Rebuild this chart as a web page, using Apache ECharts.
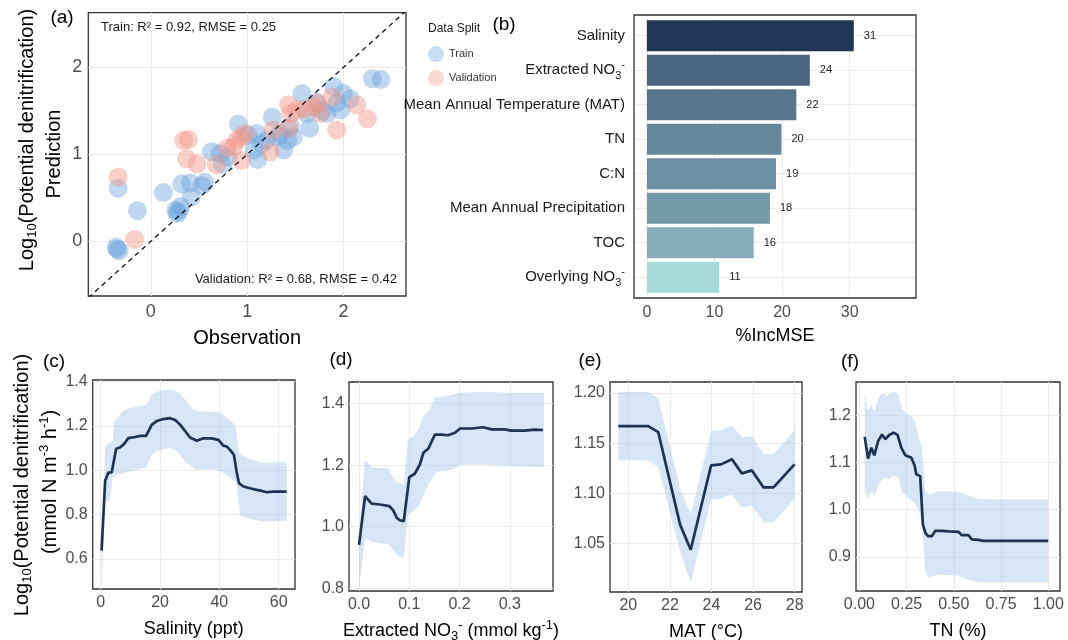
<!DOCTYPE html>
<html><head><meta charset="utf-8">
<script src="https://cdn.jsdelivr.net/npm/echarts@6/dist/echarts.min.js"></script>
<style>html,body{margin:0;padding:0;background:#fff}#c{width:1068px;height:640px}</style>
</head><body><div id="c"></div>
<script>
// ---------- DATA ----------
// (a) observed vs predicted
const trainObs  = [-0.36,-0.33,-0.35,-0.34,-0.14,0.13,0.26,0.29,0.31,0.27,0.32,0.41,0.42,0.53,0.56,0.63,0.72,0.74,0.80,0.91,1.01,1.07,1.10,1.11,1.15,1.20,1.26,1.32,1.34,1.38,1.42,1.45,1.48,1.57,1.62,1.65,1.72,1.78,1.83,1.90,1.93,1.97,2.00,2.07,2.30,2.39];
const trainPred = [-0.07,-0.11,-0.09,0.61,0.35,0.56,0.36,0.34,0.40,0.32,0.66,0.67,0.51,0.64,0.68,1.03,1.01,0.89,0.97,1.35,1.22,1.05,1.24,0.94,1.12,1.16,1.43,1.20,1.24,1.05,1.16,1.32,1.20,1.70,1.47,1.30,1.60,1.50,1.47,1.78,1.59,1.51,1.70,1.64,1.87,1.86];
const validObs  = [-0.34,-0.17,0.34,0.39,0.37,0.48,0.68,0.79,0.86,0.89,0.94,0.98,0.94,1.24,1.27,1.43,1.45,1.43,1.52,1.60,1.69,1.73,1.76,1.88,1.93,2.14,2.25];
const validPred = [0.74,0.02,1.16,1.17,0.95,0.89,0.88,1.07,1.09,1.16,1.20,1.24,0.93,1.03,1.28,1.57,1.47,1.30,1.51,1.52,1.55,1.59,1.47,1.66,1.28,1.57,1.41];
const axisRangeA = [-0.65, 2.65];
const axisRangeAy = [-0.63, 2.63];
const ticksA = [0, 1, 2];

// (b) variable importance
const barCats = ['Salinity','Extracted NO3-','Mean Annual Temperature (MAT)','TN','C:N','Mean Annual Precipitation','TOC','Overlying NO3-'];
const barVals = [30.6, 24.1, 22.1, 19.9, 19.1, 18.2, 15.8, 10.7];
const barColors = ['#1f3656','#4b6580','#58758e','#66889b','#6c8fa1','#7499a9','#87adba','#a8d9db'];
const ticksB = [0, 10, 20, 30];

// (c) salinity partial dependence
const cX = [0.3,1.5,2.6,3.7,5.2,6.5,7.9,9.3,11.6,13.3,15.3,17.2,18.9,21.1,23.4,25.1,26.7,28.4,30.1,32.4,34.6,37.4,39.7,41.3,42.5,43.6,44.9,45.8,46.6,48.1,50.3,52.6,54.3,56.0,58.2,60.4,62.7];
const cY = [0.638,0.953,0.99,0.99,1.097,1.103,1.119,1.145,1.15,1.155,1.155,1.205,1.222,1.231,1.235,1.227,1.207,1.178,1.148,1.133,1.144,1.144,1.137,1.111,1.107,1.092,1.070,0.995,0.942,0.927,0.919,0.912,0.907,0.901,0.904,0.904,0.904];
const cHiX = [0.3,1.5,2.6,4.0,4.5,5.4,7.6,9.3,13.3,15.5,17.2,18.9,21.1,24.5,26.7,29.0,31.2,34.6,40.2,41.9,44.7,45.5,46.6,49.2,54.8,59.3,62.7];
const cHi  = [0.66,1.107,1.122,1.13,1.22,1.235,1.267,1.28,1.287,1.295,1.342,1.354,1.362,1.362,1.347,1.31,1.272,1.264,1.261,1.242,1.212,1.19,1.077,1.057,1.032,1.036,1.036];
const cLoX = [0.3,1.5,3.1,4.0,5.4,9.3,15.3,17.2,18.9,23.4,25.6,29.0,32.4,39.1,42.5,45.8,47.0,49.2,54.8,62.7];
const cLo  = [0.47,0.86,0.863,0.964,0.98,0.995,1.012,1.07,1.088,1.1,1.088,1.032,1.002,1.002,0.98,0.942,0.8,0.784,0.769,0.772];

// (d) extracted NO3-
const dX = [0.0,0.012,0.025,0.042,0.06,0.068,0.075,0.081,0.089,0.1,0.111,0.121,0.128,0.138,0.151,0.164,0.177,0.191,0.201,0.224,0.247,0.264,0.29,0.303,0.33,0.35,0.366];
const dY = [0.941,1.099,1.075,1.072,1.067,1.053,1.029,1.021,1.018,1.161,1.172,1.202,1.24,1.254,1.299,1.299,1.297,1.305,1.319,1.319,1.323,1.316,1.316,1.312,1.312,1.315,1.314];
const dHiX = [0.0,0.012,0.025,0.058,0.072,0.078,0.089,0.097,0.108,0.118,0.128,0.141,0.15,0.171,0.191,0.201,0.25,0.303,0.368];
const dHi  = [0.975,1.218,1.193,1.189,1.148,1.143,1.139,1.283,1.294,1.316,1.359,1.381,1.418,1.424,1.431,1.435,1.438,1.434,1.434];
const dLoX = [0.0,0.012,0.025,0.058,0.072,0.078,0.089,0.098,0.108,0.121,0.131,0.144,0.154,0.177,0.191,0.201,0.25,0.303,0.368];
const dLo  = [0.80,0.964,0.95,0.943,0.916,0.905,0.9,1.04,1.051,1.072,1.116,1.154,1.178,1.181,1.189,1.2,1.202,1.197,1.194];

// (e) MAT
const eX  = [19.52,20.96,21.44,22.49,23.0,23.98,24.46,24.98,25.46,25.94,26.5,26.98,27.99];
const eY  = [1.167,1.167,1.161,1.069,1.044,1.128,1.129,1.134,1.120,1.123,1.106,1.106,1.129];
const eHi = [1.201,1.201,1.195,1.105,1.079,1.162,1.163,1.168,1.156,1.157,1.139,1.139,1.163];
const eLo = [1.133,1.133,1.126,1.042,1.011,1.094,1.095,1.099,1.086,1.088,1.071,1.071,1.095];

// (f) TN
const fX = [0.028,0.046,0.063,0.079,0.099,0.12,0.137,0.158,0.181,0.202,0.222,0.243,0.275,0.292,0.301,0.322,0.336,0.349,0.363,0.384,0.401,0.437,0.472,0.525,0.542,0.577,0.595,0.63,0.657,1.0];
const fY = [1.154,1.108,1.131,1.115,1.145,1.159,1.149,1.158,1.163,1.158,1.131,1.115,1.110,1.094,1.075,1.071,0.969,0.951,0.944,0.944,0.955,0.955,0.954,0.953,0.946,0.946,0.937,0.936,0.934,0.934];
const fHiX = [0.028,0.046,0.063,0.079,0.102,0.123,0.146,0.164,0.19,0.208,0.225,0.252,0.278,0.296,0.313,0.331,0.349,0.375,0.419,0.525,0.569,0.613,0.657,1.0];
const fHi  = [1.244,1.208,1.223,1.208,1.237,1.247,1.24,1.247,1.249,1.244,1.215,1.201,1.198,1.184,1.152,1.131,1.039,1.032,1.039,1.038,1.031,1.024,1.022,1.022];
const fLoX = [0.028,0.046,0.063,0.079,0.102,0.129,0.155,0.181,0.208,0.225,0.252,0.287,0.313,0.331,0.349,0.366,0.419,0.525,0.569,0.613,0.657,1.0];
const fLo  = [1.039,1.022,1.039,1.029,1.054,1.068,1.064,1.071,1.069,1.036,1.029,1.015,1.001,0.976,0.870,0.856,0.863,0.86,0.853,0.848,0.846,0.846];

// ---------- STYLE ----------
const FONT = '"Liberation Sans", Arial, Helvetica, sans-serif';
const TICKC = '#4d4d4d';
const GRIDC = '#ebebeb';
const LINEC = '#1c3353';
const BANDC = 'rgba(158,196,234,0.42)';
const richSS = {
  sub: {fontSize: 11, verticalAlign: 'bottom', lineHeight: 14, fontFamily: FONT},
  sup: {fontSize: 11, verticalAlign: 'top', lineHeight: 14, fontFamily: FONT}
};
const richSSBig = {
  sub: {fontSize: 13, verticalAlign: 'bottom', lineHeight: 16, fontFamily: FONT, fill: '#000', color: '#000'},
  sup: {fontSize: 13, verticalAlign: 'top', lineHeight: 16, fontFamily: FONT, fill: '#000', color: '#000'}
};

function grid(l, t, w, h, show) {
  return {left: l, top: t, width: w, height: h, show: show, borderColor: '#333', borderWidth: 1.3,
          backgroundColor: 'transparent', containLabel: false, outerBoundsMode: 'none'};
}
function valAxis(gi, min, max, ticks, digits, fs, margin, extra) {
  return Object.assign({
    type: 'value', gridIndex: gi, min: min, max: max,
    axisLine: {show: false},
    axisTick: {show: false, customValues: ticks},
    axisLabel: {customValues: ticks, color: TICKC, fontSize: fs, fontFamily: FONT, margin: margin,
                formatter: v => Number(v).toFixed(digits)},
    splitLine: {show: true, lineStyle: {color: GRIDC, width: 1}}
  }, extra || {});
}
function xName(name, gap, fs) {
  return {name: name, nameLocation: 'middle', nameGap: gap,
          nameTextStyle: {fontSize: fs, color: '#000', fontFamily: FONT, lineHeight: 24, rich: richSSBig}};
}
function band(gi, hiX, hi, loX, lo) {
  return {
    type: 'custom', xAxisIndex: gi, yAxisIndex: gi, silent: true, z: 1, clip: true,
    data: [[hiX[0], hi[0]]],
    renderItem: function (params, api) {
      const pts = [];
      for (let i = 0; i < hiX.length; i++) pts.push(api.coord([hiX[i], hi[i]]));
      for (let i = loX.length - 1; i >= 0; i--) pts.push(api.coord([loX[i], lo[i]]));
      return {type: 'polygon', shape: {points: pts}, style: {fill: BANDC}};
    }
  };
}
function pdLine(gi, xs, ys) {
  return {type: 'line', xAxisIndex: gi, yAxisIndex: gi, data: xs.map((x, i) => [x, ys[i]]),
          symbol: 'none', z: 3, silent: true, lineStyle: {color: LINEC, width: 2.7}};
}
function txt(x, y, text, fs, align, extra) {
  return {type: 'text', x: x, y: y, silent: true, z: 10,
          style: Object.assign({text: text, fontSize: fs, fontFamily: FONT, fill: '#000',
                                align: align || 'center', verticalAlign: 'middle'}, extra || {})};
}

const fmtCat = s => s.replace('NO3-', 'NO{sub|3}{sup|-}');

const option = {
  backgroundColor: '#fff',
  animation: false,
  textStyle: {fontFamily: FONT},
  grid: [
    grid(88.3, 12.7, 317.7, 283.3, true),   // a
    grid(634, 18.45, 282, 276, false),      // b
    grid(92.7, 380, 202.3, 209, true),      // c
    grid(349, 382, 204, 209, true),         // d
    grid(610, 382, 192, 210, true),         // e
    grid(856, 382, 204, 209, true)          // f
  ],
  xAxis: [
    valAxis(0, axisRangeA[0], axisRangeA[1], ticksA, 0, 18, 7, xName('Observation', 30, 20)),
    valAxis(1, -1.9, 39.8, ticksB, 0, 16, 10.5, xName('%IncMSE', 30, 18)),
    valAxis(2, -2.7, 65.5, [0, 20, 40, 60], 0, 16, 6, xName('Salinity (ppt)', 28, 18)),
    valAxis(3, -0.02, 0.386, [0, 0.1, 0.2, 0.3], 1, 16, 6, xName('Extracted NO{sub|3}{sup|-} (mmol kg{sup|-1})', 28, 18)),
    valAxis(4, 19.12, 28.35, [20, 22, 24, 26, 28], 0, 16, 6, xName('MAT (°C)', 28, 18)),
    valAxis(5, -0.018, 1.062, [0, 0.25, 0.5, 0.75, 1.0], 2, 16, 6, xName('TN (%)', 28, 18))
  ],
  yAxis: [
    valAxis(0, axisRangeAy[0], axisRangeAy[1], ticksA, 0, 18, 6),
    {type: 'category', gridIndex: 1, data: barCats, inverse: true,
     axisLine: {show: false}, axisTick: {show: false, alignWithLabel: true},
     splitLine: {show: true, alignWithLabel: true, lineStyle: {color: GRIDC, width: 1}},
     axisLabel: {color: '#1a1a1a', fontSize: 15, fontFamily: FONT, margin: 9, lineHeight: 22,
                 formatter: fmtCat, rich: richSS}},
    valAxis(2, 0.465, 1.407, [0.6, 0.8, 1.0, 1.2, 1.4], 1, 16, 5),
    valAxis(3, 0.791, 1.47, [0.8, 1.0, 1.2, 1.4], 1, 16, 5),
    valAxis(4, 1.0019, 1.211, [1.05, 1.10, 1.15, 1.20], 2, 16, 5),
    valAxis(5, 0.828, 1.270, [0.9, 1.0, 1.1, 1.2], 1, 16, 5)
  ],
  legend: {
    left: 428, top: 46, orient: 'vertical', padding: 0, itemWidth: 16, itemHeight: 16, itemGap: 8,
    icon: 'circle', textStyle: {fontSize: 11, color: '#333', fontFamily: FONT},
    data: [{name: 'Train', itemStyle: {color: 'rgba(120,172,224,0.5)'}},
           {name: 'Validation', itemStyle: {color: 'rgba(242,150,138,0.45)'}}]
  },
  series: [
    {name: 'Train', type: 'scatter', xAxisIndex: 0, yAxisIndex: 0, symbolSize: 19, z: 2,
     data: trainObs.map((x, i) => [x, trainPred[i]]),
     itemStyle: {color: 'rgba(110,165,220,0.55)'}},
    {name: 'Validation', type: 'scatter', xAxisIndex: 0, yAxisIndex: 0, symbolSize: 19, z: 3,
     data: validObs.map((x, i) => [x, validPred[i]]),
     itemStyle: {color: 'rgba(242,147,133,0.55)'}},
    {type: 'line', xAxisIndex: 0, yAxisIndex: 0, symbol: 'none', z: 4, silent: true,
     data: axisRangeA.map(v => [v, v]),
     lineStyle: {color: '#111', width: 1.3, type: [5, 4]}},
    {type: 'bar', xAxisIndex: 1, yAxisIndex: 1, barWidth: '90%', silent: true,
     data: barVals.map((v, i) => ({value: v, itemStyle: {color: barColors[i]}})),
     label: {show: true, position: 'right', distance: 10, fontSize: 11, color: '#222', fontFamily: FONT,
             formatter: p => String(Math.round(p.value))}},
    band(2, cHiX, cHi, cLoX, cLo), pdLine(2, cX, cY),
    band(3, dHiX, dHi, dLoX, dLo), pdLine(3, dX, dY),
    band(4, eX, eHi, eX, eLo), pdLine(4, eX, eY),
    band(5, fHiX, fHi, fLoX, fLo), pdLine(5, fX, fY)
  ],
  graphic: [
    {type: 'rect', silent: true, z: 5, shape: {x: 634, y: 15, width: 282, height: 283},
     style: {fill: 'none', stroke: '#333', lineWidth: 1.3}},
    txt(62, 18, '(a)', 19), txt(504, 25, '(b)', 19),
    txt(54, 362, '(c)', 19), txt(341, 360, '(d)', 19), txt(590, 361, '(e)', 19), txt(850, 362, '(f)', 19),
    txt(101, 27, 'Train: R² = 0.92, RMSE = 0.25', 13, 'left', {fill: '#1a1a1a'}),
    txt(397, 279, 'Validation: R² = 0.68, RMSE = 0.42', 13, 'right', {fill: '#1a1a1a'}),
    txt(428, 29, 'Data Split', 12, 'left', {fill: '#1a1a1a'}),
    Object.assign(txt(27, 140, 'Log{sub|10}(Potential denitrification)', 20, 'center', {lineHeight: 24, rich: richSSBig}), {rotation: Math.PI / 2}),
    Object.assign(txt(54, 154, 'Prediction', 20, 'center'), {rotation: Math.PI / 2}),
    Object.assign(txt(22, 485, 'Log{sub|10}(Potential denitrification)', 20, 'center', {lineHeight: 24, rich: richSSBig}), {rotation: Math.PI / 2}),
    Object.assign(txt(50, 482, '(mmol N m{sup|-3} h{sup|-1})', 20, 'center', {lineHeight: 24, rich: richSSBig}), {rotation: Math.PI / 2})
  ]
};

const chart = echarts.init(document.getElementById('c'), null, {renderer: 'canvas'});
chart.setOption(option);
</script>
</body></html>
